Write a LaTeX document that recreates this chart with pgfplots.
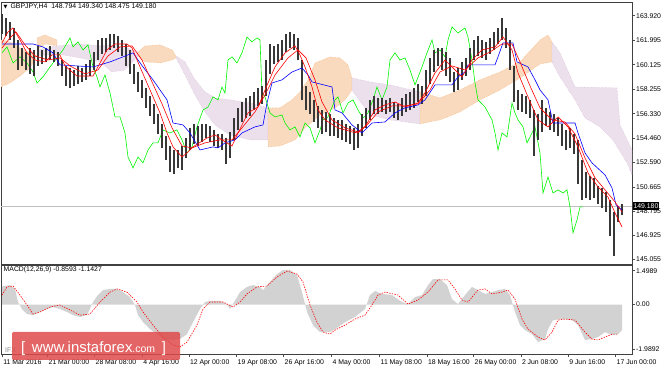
\documentclass[border=0pt]{standalone}
\usepackage{pgfplots}
\pgfplotsset{compat=1.18}
\usepackage{pgfplotstable}
\usepackage{fontspec}
\setmainfont{Liberation Sans}
\newfontfamily\sym{DejaVu Sans}
\definecolor{cOr}{RGB}{249,218,190}
\definecolor{cOrE}{RGB}{244,164,96}
\definecolor{cLi}{RGB}{237,224,237}
\definecolor{cLiE}{RGB}{205,175,205}
\definecolor{cGr}{RGB}{0,245,0}
\definecolor{cHist}{RGB}{210,210,210}
\definecolor{cWm}{RGB}{222,74,74}

\pgfplotstableread{
x lo hi
2 162.51 164.06
6 162.35 163.75
10 162.04 163.44
14 161.42 162.97
18 159.72 162.04
22 160.03 161.42
26 159.72 161.11
30 159.41 161.42
34 159.25 161.27
38 160.03 161.58
42 160.18 161.27
46 160.34 161.42
50 160.49 161.58
54 160.34 161.27
58 160.03 161.11
62 159.25 160.49
66 158.48 160.03
70 158.33 159.87
74 158.48 159.72
78 158.64 160.03
82 158.79 159.87
86 158.95 160.18
90 159.25 160.49
94 159.72 161.11
98 160.49 162.04
102 160.96 162.20
106 161.11 162.20
110 161.27 162.51
114 161.42 162.51
118 161.11 162.35
122 160.80 162.04
126 160.03 161.73
130 159.41 161.27
134 158.64 160.18
138 158.02 159.56
142 157.55 158.95
146 156.78 158.33
150 156.16 157.71
154 155.54 157.09
158 154.76 156.31
162 153.68 155.54
166 152.75 154.61
170 151.82 153.83
174 151.67 153.52
178 152.13 153.52
182 151.97 153.83
186 152.90 154.45
190 153.52 155.23
194 153.99 155.54
198 153.83 155.38
202 154.14 155.54
206 154.45 155.54
210 154.14 155.38
214 153.83 155.07
218 153.68 154.76
222 153.52 154.76
226 152.44 154.45
230 152.90 154.92
234 154.30 156.00
238 155.07 156.78
242 155.69 157.24
246 156.00 157.55
250 156.16 157.71
254 156.62 158.02
258 156.93 158.33
262 157.09 158.48
266 157.71 160.49
270 159.41 161.73
274 160.18 161.58
278 160.34 161.73
282 160.49 162.04
286 161.11 162.51
290 161.42 162.66
294 161.27 162.51
298 160.49 162.20
302 157.40 160.49
306 156.62 158.48
310 156.31 158.02
314 155.69 157.40
318 155.23 156.93
322 154.76 156.62
326 154.92 156.47
330 154.61 156.31
334 154.61 156.00
338 154.45 155.85
342 154.30 155.85
346 154.14 155.54
350 153.99 155.38
354 153.52 155.23
358 153.68 155.54
362 154.61 156.31
366 155.23 156.78
370 155.85 157.40
374 156.31 157.71
378 156.31 157.55
382 156.47 157.55
386 156.31 157.40
390 156.47 157.55
394 156.00 157.24
398 155.85 157.09
402 156.16 157.55
406 156.47 157.86
410 156.62 158.02
414 156.78 158.33
418 157.24 158.64
422 157.09 158.48
426 157.71 159.72
430 158.64 160.65
434 159.56 161.27
438 160.03 161.42
442 159.72 161.42
446 159.25 161.11
450 158.79 160.65
454 158.02 159.56
458 158.17 159.87
462 158.95 160.34
466 159.25 160.65
470 159.72 161.42
474 160.49 162.04
478 160.80 162.35
482 160.65 162.04
486 160.49 161.89
490 160.96 162.20
494 161.27 162.66
498 161.73 162.97
502 162.04 163.75
506 161.42 162.97
510 159.72 162.04
514 157.24 160.03
518 156.62 158.17
522 156.47 157.86
526 156.31 157.71
530 156.00 157.40
534 153.06 156.62
538 154.30 156.31
542 154.92 157.40
546 155.38 156.78
550 155.07 156.47
554 154.92 156.31
558 154.61 156.00
562 153.83 155.54
566 153.52 155.07
570 153.68 155.23
574 153.21 154.76
578 150.89 154.30
582 149.65 152.75
586 149.81 151.82
590 149.65 151.51
594 149.81 151.36
598 149.34 150.74
602 149.03 150.58
606 148.72 150.27
610 146.86 149.65
614 145.32 148.72
618 147.95 149.19
622 148.48 149.34
}\candles

\begin{document}
\begin{tikzpicture}[font=\fontsize{6.9}{8}\selectfont]
\useasboundingbox (0,0) rectangle (664bp,369bp);
\begin{axis}[
  at={(1bp,105bp)}, anchor=south west,
  width=631bp, height=262bp, scale only axis,
  xmin=1, xmax=632, ymin=144.69, ymax=164.98,
  xtick=\empty,
  ytick={163.92,161.995,160.125,158.255,156.33,154.46,152.59,150.665,148.795,146.925,145.055},
  yticklabels={163.920,161.995,160.125,158.255,156.330,154.460,152.590,150.665,148.795,146.925,145.055},
  ytick pos=right, yticklabel pos=right,
  tick align=outside, major tick length=3bp,
  tick style={black!70, line width=0.6bp},
  yticklabel style={inner xsep=1bp},
  axis line style={black!75, line width=0.8bp},
  clip mode=individual,
  /pgf/number format/assume math mode=true,
]
% cloud
\addplot[fill=cOr, draw=cOrE, densely dotted, line width=0.4bp] coordinates {(1,162.04) (10,161.89) (20,161.42) (30,161.04) (37,160.80) (30,159.87) (20,159.25) (10,158.71) (1,158.40)} --cycle;
\addplot[fill=cOr, draw=cOrE, densely dotted, line width=0.4bp] coordinates {(37,162.20) (45,162.43) (57,162.04) (57,161.58) (45,161.73) (37,161.27)} --cycle;
\addplot[fill=cLi, draw=cLiE, densely dotted, line width=0.4bp] coordinates {(37,161.27) (57,161.58) (80,161.73) (100,161.58) (112,161.66) (125,161.50) (138,161.11) (138,160.80) (125,159.72) (112,159.56) (100,160.34) (80,160.65) (57,160.96) (37,160.80)} --cycle;
\addplot[fill=cOr, draw=cOrE, densely dotted, line width=0.4bp] coordinates {(138,161.11) (145,161.58) (160,161.66) (172,161.27) (176,160.80) (176,160.65) (172,160.49) (160,160.26) (145,160.34) (138,160.80)} --cycle;
\addplot[fill=cLi, draw=cLiE, densely dotted, line width=0.4bp] coordinates {(176,160.80) (185,160.34) (195,158.95) (205,158.02) (215,157.55) (230,157.40) (250,157.16) (268,156.78) (268,154.30) (250,154.30) (230,154.69) (215,155.46) (205,156.47) (195,157.78) (185,159.33) (176,160.65)} --cycle;
\addplot[fill=cOr, draw=cOrE, densely dotted, line width=0.4bp] coordinates {(268,156.78) (280,156.78) (292,157.40) (300,158.02) (308,158.95) (315,160.26) (330,160.73) (340,160.65) (348,160.11) (352,159.10) (352,158.17) (345,157.40) (335,156.78) (320,156.23) (305,155.23) (295,154.30) (280,153.83) (268,153.76)} --cycle;
\addplot[fill=cLi, draw=cLiE, densely dotted, line width=0.4bp] coordinates {(352,159.10) (370,158.79) (390,158.56) (420,158.02) (420,155.54) (390,155.85) (370,156.23) (352,158.17)} --cycle;
\addplot[fill=cOr, draw=cOrE, densely dotted, line width=0.4bp] coordinates {(420,158.02) (440,157.55) (460,158.17) (480,158.95) (500,159.56) (520,160.34) (540,162.04) (548,162.43) (552,161.89) (552,160.34) (540,160.18) (520,159.10) (500,158.17) (480,157.40) (460,156.47) (440,155.85) (420,155.54)} --cycle;
\addplot[fill=cLi, draw=cLiE, densely dotted, line width=0.4bp] coordinates {(552,161.89) (560,161.04) (575,158.40) (617,158.33) (620,155.46) (632,153.52) (632,151.59) (627,152.52) (613,154.30) (600,155.31) (585,156.00) (575,157.40) (560,159.18) (552,160.34)} --cycle;
% current price line
\addplot[black!25, line width=0.9bp] coordinates {(1,149.18) (632,149.18)};
% chikou
\addplot[cGr, line width=0.6bp] coordinates {
(2,161.04) (7,161.50) (13,160.26) (20,160.73) (27,160.26) (33,159.56) (37,158.71) (43,159.18) (50,159.95) (57,160.65)
(63,161.27) (70,162.20) (73,161.50) (78,161.89) (83,161.27) (88,161.66) (93,159.95) (97,159.18) (100,158.40) (105,159.33)
(110,157.94) (115,156.08) (120,156.08) (125,154.84) (128,152.98) (133,152.13) (138,152.98) (143,152.52) (148,153.52) (153,154.07)
(158,154.07) (163,155.07) (170,154.84) (177,155.07) (182,154.30) (187,153.29) (192,153.76) (197,155.31) (203,156.62) (208,156.85)
(213,157.63) (218,157.40) (222,158.40) (225,157.94) (228,160.49) (232,160.73) (237,160.26) (242,161.04) (247,162.27) (252,161.89)
(257,162.20) (260,162.04) (262,157.94) (265,157.63) (270,156.39) (275,156.08) (282,156.23) (285,155.61) (290,155.07) (295,155.31)
(300,154.53) (305,155.61) (310,155.23) (315,154.07) (320,155.07) (323,155.85) (328,156.08) (335,157.40) (338,157.63) (343,156.39)
(348,157.16) (353,157.40) (358,156.62) (363,156.00) (368,156.39) (373,157.40) (377,158.40) (382,157.40) (387,158.40) (390,160.49)
(395,161.04) (400,160.49) (405,160.65) (410,159.72) (415,158.56) (422,159.95) (427,161.04) (432,162.04) (435,161.04) (440,161.27)
(445,160.73) (448,162.04) (452,163.05) (458,162.58) (465,162.97) (468,162.27) (472,160.49) (475,158.71) (478,157.40) (485,156.85)
(492,155.85) (495,154.84) (498,153.52) (502,154.84) (507,154.53) (512,157.16) (515,156.39) (518,155.85) (523,155.31) (527,154.07)
(532,154.84) (535,155.31) (540,153.29) (543,150.19) (548,151.43) (553,150.19) (558,150.43) (563,150.19) (567,150.43) (570,149.11)
(573,147.10) (577,148.10) (580,149.11) (583,149.11)};
% candles
\addplot[draw=none, mark=none, error bars/.cd, y dir=plus, y explicit, error mark=none,
  error bar style={line width=1.8bp, draw=black!78}]
  table[x=x, y=lo, y error plus expr=\thisrow{hi}-\thisrow{lo}] {\candles};
% kijun
\addplot[blue, line width=0.6bp] coordinates {
(2,161.73) (33,161.73) (43,161.50) (53,161.04) (60,160.11) (93,159.95) (100,160.11) (110,160.34) (123,160.73) (133,161.04)
(143,159.95) (153,158.95) (160,158.17) (167,157.40) (173,155.61) (183,155.46) (190,154.84) (200,153.52) (213,153.76) (218,153.68)
(225,154.07) (235,154.30) (242,154.84) (255,155.31) (263,155.46) (267,157.16) (272,158.71) (282,158.95) (292,159.56) (302,159.87)
(308,159.33) (312,158.79) (332,158.40) (335,156.62) (342,156.39) (352,155.46) (362,154.84) (372,155.61) (385,155.69) (395,156.39)
(405,156.78) (418,157.01) (425,157.40) (435,158.56) (452,158.56) (458,159.18) (465,159.56) (468,160.11) (495,160.11) (498,160.73)
(503,161.81) (513,161.81) (517,160.34) (528,159.95) (535,158.95) (540,158.17) (548,157.40) (553,155.61) (575,155.61) (578,154.84)
(585,153.29) (592,152.52) (605,151.59) (612,150.58) (616,149.27) (622,148.87)};
% red 2
\addplot[red, line width=0.6bp] coordinates {
(2,161.42) (10,162.20) (16,162.66) (25,161.66) (35,160.80) (48,160.49) (60,160.65) (70,160.03) (85,159.41) (98,159.72)
(108,160.80) (120,161.50) (132,161.58) (142,160.49) (152,158.79) (162,157.09) (172,155.23) (182,153.83) (192,153.68) (205,154.07)
(220,154.30) (232,154.30) (242,155.23) (255,156.47) (265,157.78) (275,159.33) (288,160.65) (298,161.27) (306,160.65) (315,158.95)
(322,157.24) (332,155.85) (345,155.23) (358,154.92) (368,155.54) (378,156.47) (392,156.93) (405,156.93) (418,157.09) (430,158.17)
(440,159.56) (452,160.03) (465,159.72) (478,160.65) (490,161.11) (502,161.73) (512,161.73) (520,160.34) (530,158.48) (540,156.78)
(552,155.85) (565,155.69) (575,154.76) (585,152.90) (595,151.36) (605,150.43) (615,149.50) (622,148.72)};
% red 1
\addplot[red, line width=0.6bp] coordinates {
(2,161.81) (8,162.66) (13,162.97) (20,162.04) (27,161.04) (35,160.49) (45,160.34) (52,160.88) (60,160.88) (65,160.03)
(77,159.25) (93,159.25) (100,160.26) (107,161.27) (115,161.73) (127,161.73) (132,161.42) (140,159.95) (150,158.17) (160,156.39)
(167,154.84) (173,153.76) (182,152.98) (187,153.29) (193,153.76) (207,154.45) (215,154.69) (222,154.30) (232,153.83) (238,154.84)
(248,156.39) (258,156.85) (268,158.71) (275,159.95) (285,161.04) (295,161.58) (300,160.88) (305,159.95) (312,158.40) (318,156.62)
(325,155.85) (338,155.23) (352,154.92) (358,154.84) (365,155.31) (375,156.62) (385,157.01) (395,157.24) (405,156.85) (418,157.16)
(425,157.94) (435,159.49) (445,160.49) (455,159.72) (462,159.18) (472,160.49) (482,161.27) (495,161.50) (503,162.27) (512,161.27)
(518,159.49) (528,157.63) (538,155.85) (548,155.31) (558,156.08) (568,155.31) (578,153.76) (588,151.74) (598,150.66) (608,149.88)
(615,148.65) (622,147.56)};
\node[anchor=north west, inner sep=1.5bp] at (axis cs:2,164.98) {{\sym\fontsize{5}{5}\selectfont ▼}\, GBPJPY,H4\ \ 148.794 149.340 148.475 149.180};
\node[anchor=west, fill=black, text=white, inner sep=0.8bp, minimum height=8bp] at (axis cs:632.5,149.18) {149.180};
\end{axis}

\begin{axis}[
  at={(1bp,15bp)}, anchor=south west,
  width=631bp, height=89bp, scale only axis,
  xmin=1, xmax=632, ymin=-2.19, ymax=1.75,
  xtick={2.3,47.7,94.7,142.3,189,236.7,283.7,331.7,379.7,427,473.7,521,568.3,615.7},
  xticklabels={11 Mar 2016,21 Mar 00:00,28 Mar 08:00,4 Apr 16:00,12 Apr 00:00,19 Apr 08:00,26 Apr 16:00,4 May 00:00,11 May 08:00,18 May 16:00,26 May 00:00,2 Jun 08:00,9 Jun 16:00,17 Jun 00:00},
  xtick pos=bottom,
  xticklabel style={anchor=north west, inner xsep=0.8bp, inner ysep=2.2bp},
  ytick={-1.9892,0,1.4989}, yticklabels={-1.9892,0.00,1.4989},
  ytick pos=right, yticklabel pos=right,
  yticklabel style={inner xsep=1bp},
  tick align=outside, major tick length=3bp,
  tick style={black!70, line width=0.6bp},
  axis line style={black!75, line width=0.8bp},
  clip mode=individual,
  /pgf/number format/assume math mode=true,
]
\addplot[fill=cHist, draw=none] coordinates {
(2,0) (2,0.80) (10,0.86) (15,0.69) (18,0.11) (22,-0.20) (27,-0.42) (33,-0.47) (40,-0.33) (47,-0.20) (53,-0.11)
(60,-0.20) (67,-0.33) (73,-0.47) (80,-0.55) (87,-0.47) (93,0.11) (98,0.42) (103,0.64) (110,0.69) (117,0.69)
(123,0.55) (130,0.33) (135,-0.02) (138,-0.47) (143,-0.78) (150,-1.09) (157,-1.31) (163,-1.53) (170,-1.57) (180,-1.53)
(187,-1.31) (193,-0.78) (200,-0.20) (205,0.11) (210,0.16) (220,0.16) (227,0.02) (230,-0.20) (233,0.02) (240,0.55)
(247,0.78) (253,0.86) (260,0.78) (263,0.64) (270,1.00) (277,1.35) (283,1.53) (290,1.53) (297,1.31) (302,0.55)
(307,-0.33) (313,-0.91) (320,-1.22) (330,-1.22) (335,-1.09) (345,-0.78) (355,-0.55) (365,-0.20) (370,0.42) (375,0.60)
(382,0.47) (392,0.42) (402,0.11) (408,0.02) (415,0.33) (422,0.42) (428,0.86) (433,1.13) (440,1.13) (447,0.86)
(452,0.24) (458,0.02) (465,0.42) (472,0.78) (478,0.64) (485,0.47) (492,0.55) (498,0.64) (505,0.69) (510,0.42)
(515,-0.33) (520,-0.91) (525,-1.13) (532,-1.31) (538,-1.66) (545,-1.53) (548,-1.09) (553,-0.69) (562,-0.64) (572,-0.69)
(578,-0.91) (585,-1.57) (592,-1.53) (598,-1.44) (605,-1.22) (612,-1.35) (618,-1.31) (622,-1.13) (622,0)} --cycle;
\addplot[red, dash pattern=on 1.4bp off 1.2bp, line width=0.6bp] coordinates {
(2,0.42) (7,0.78) (13,0.82) (20,0.42) (27,-0.02) (33,-0.42) (40,-0.33) (50,-0.11) (60,-0.02) (70,-0.24)
(80,-0.47) (90,-0.42) (100,0.11) (110,0.55) (117,0.69) (127,0.55) (137,0.11) (143,-0.33) (153,-0.91) (163,-1.44)
(173,-1.79) (180,-1.88) (187,-1.66) (197,-0.91) (203,-0.20) (210,0.11) (223,0.11) (233,-0.11) (240,0.11) (247,0.47)
(257,0.78) (267,0.82) (277,1.22) (287,1.48) (297,1.35) (303,1.00) (310,-0.02) (317,-0.78) (323,-1.22) (330,-1.31)
(335,-1.13) (345,-0.91) (355,-0.64) (365,-0.47) (372,-0.02) (378,0.42) (385,0.55) (398,0.42) (408,0.02) (418,0.20)
(428,0.55) (438,1.09) (448,1.09) (455,0.69) (462,0.20) (468,0.11) (478,0.64) (485,0.69) (492,0.47) (502,0.55)
(508,0.64) (515,0.24) (522,-0.64) (528,-1.09) (538,-1.44) (545,-1.57) (552,-1.22) (558,-0.69) (565,-0.64) (575,-0.69)
(585,-1.22) (592,-1.53) (598,-1.57) (605,-1.44) (612,-1.31) (618,-1.31)};
\node[anchor=north west, inner sep=1.5bp] at (axis cs:2,1.75) {MACD(12,26,9) -0.8593 -1.1427};
\end{axis}
\node[anchor=base west, text=black!45, inner sep=0] at (5bp,16.5bp) {IFX};
\fill[cWm, opacity=0.85, rounded corners=1.5bp] (12bp,9bp) rectangle (180bp,37bp);
\node[anchor=base west, text=white, inner sep=0] at (21bp,17bp) {\fontsize{15}{15}\selectfont [\ \,www.instaforex{\fontsize{10.5}{10.5}\selectfont.com}\ \,]};
\end{tikzpicture}
\end{document}
